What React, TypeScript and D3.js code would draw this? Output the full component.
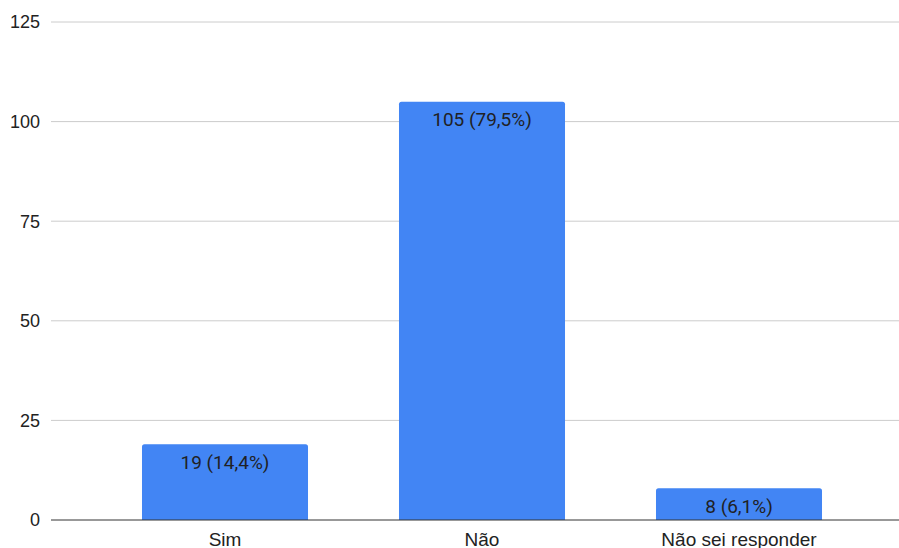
import React from "react";
import * as d3 from "d3";

const categories = ["Sim", "Não", "Não sei responder"];
const values = [19, 105, 8];
const valueLabels = ["19 (14,4%)", "105 (79,5%)", "8 (6,1%)"];
const yTicks = [0, 25, 50, 75, 100, 125];

export default function App() {
  const W = 899, H = 548;
  const left = 51, right = 899, top = 22, bottom = 520;
  const y = d3.scaleLinear().domain([0, 125]).range([bottom, top]);
  const x = d3.scaleBand<string>().domain(categories).range([96.5, 867.5]).paddingInner(0.354).paddingOuter(0.177);
  const axisFont = "'Liberation Sans', Arial, sans-serif";
  const labelFont = "Roboto, Arial, sans-serif";
  const r = 2.5;
  const barPath = (x0: number, y0: number, w: number, h: number) => {
    const rr = Math.min(r, h);
    return `M${x0},${y0 + h}V${y0 + rr}Q${x0},${y0} ${x0 + rr},${y0}H${x0 + w - rr}Q${x0 + w},${y0} ${x0 + w},${y0 + rr}V${y0 + h}Z`;
  };
  return (
    <svg width={W} height={H} style={{ position: "absolute", left: 0, top: 0 }}>
      <rect width={W} height={H} fill="#fff" />
      {yTicks.map((t) => (
        <g key={t}>
          {t !== 0 && <line x1={left} x2={right} y1={y(t)} y2={y(t)} stroke="#cccccc" strokeWidth={1} />}
          <text x={40} y={y(t)} dy="0.35em" textAnchor="end" fontSize={18} fontFamily={axisFont} fill="#222">{t}</text>
        </g>
      ))}
      {categories.map((c, i) => {
        const bx = x(c)!;
        const by = y(values[i]);
        const bw = x.bandwidth();
        return (
          <g key={c}>
            <path d={barPath(bx, by, bw, bottom - by)} fill="#4285f4" />
            <text x={bx + bw / 2} y={by + 18} dy="0.35em" textAnchor="middle" fontSize={19} fontFamily={labelFont} fill="#202124">{valueLabels[i]}</text>
            <text x={bx + bw / 2} y={539} dy="0.35em" textAnchor="middle" fontSize={19} fontFamily={axisFont} fill="#222">{c}</text>
          </g>
        );
      })}
      <line x1={left} x2={right} y1={bottom} y2={bottom} stroke="#333" strokeWidth={1} />
    </svg>
  );
}
